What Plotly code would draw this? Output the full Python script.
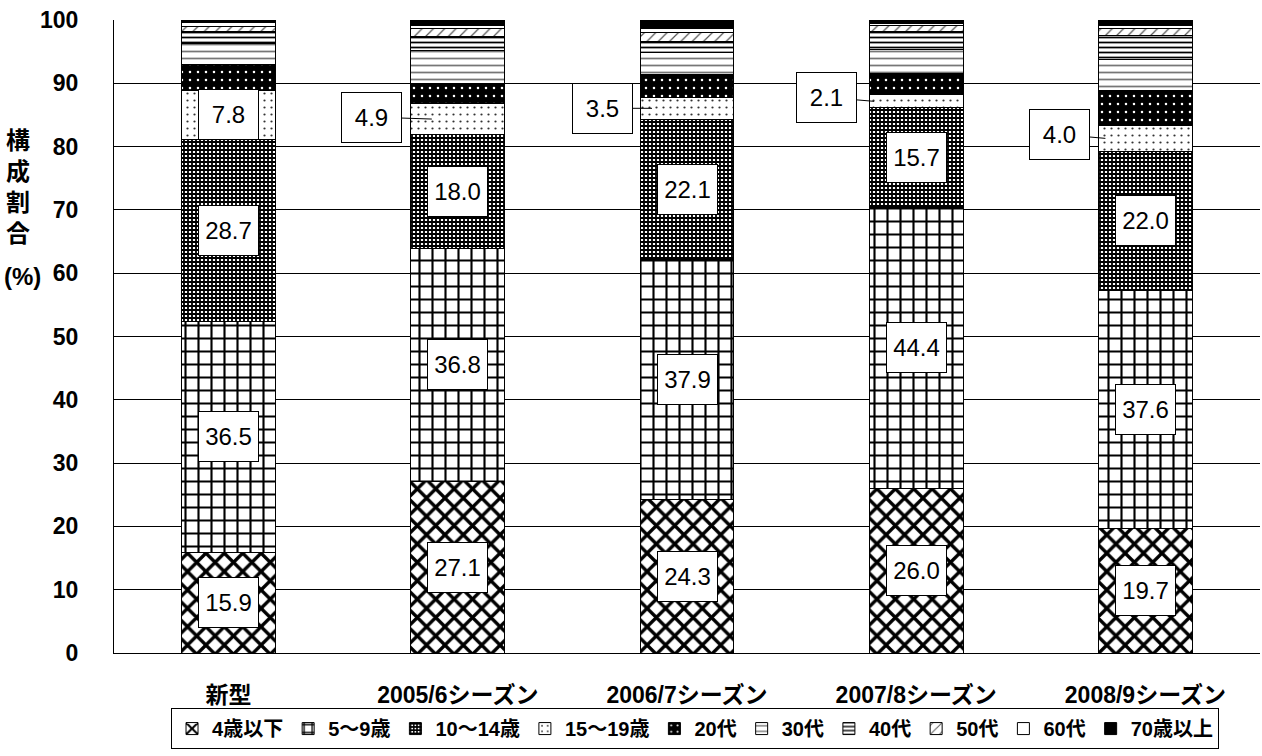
import plotly.graph_objects as go

# Seasons / outbreak shown on the category axis
categories = ["新型", "2005/6シーズン", "2006/7シーズン", "2007/8シーズン", "2008/9シーズン"]

# Age groups (stack order, bottom to top)
age_groups = ["4歳以下", "5～9歳", "10～14歳", "15～19歳", "20代",
              "30代", "40代", "50代", "60代", "70歳以上"]

# Composition ratio (%) per age group, one value per category
age_0_4 = [15.9, 27.1, 24.3, 26.0, 19.7]
age_5_9 = [36.5, 36.8, 37.9, 44.4, 37.6]
age_10_14 = [28.7, 18.0, 22.1, 15.7, 22.0]
age_15_19 = [7.8, 4.9, 3.5, 2.1, 4.0]
age_20s = [4.0, 3.1, 3.6, 3.3, 5.5]
age_30s = [3.4, 5.3, 3.5, 3.9, 5.0]
age_40s = [1.9, 2.2, 1.7, 2.8, 3.8]
age_50s = [0.8, 1.3, 1.4, 0.9, 1.1]
age_60s = [0.6, 0.5, 0.6, 0.4, 0.4]
age_70p = [0.4, 0.8, 1.4, 0.5, 0.9]

series = [age_0_4, age_5_9, age_10_14, age_15_19, age_20s,
          age_30s, age_40s, age_50s, age_60s, age_70p]

# Monochrome fill patterns, one per age group
patterns = [
    dict(shape="x", fgcolor="black", bgcolor="white", size=13, solidity=0.45),
    dict(shape="+", fgcolor="black", bgcolor="white", size=13, solidity=0.3),
    dict(shape="+", fgcolor="black", bgcolor="white", size=4, solidity=0.7),
    dict(shape=".", fgcolor="#333333", bgcolor="white", size=7, solidity=0.08),
    dict(shape=".", fgcolor="white", bgcolor="black", size=8, solidity=0.08),
    dict(shape="-", fgcolor="#777777", bgcolor="white", size=7, solidity=0.25),
    dict(shape="-", fgcolor="black", bgcolor="white", size=5, solidity=0.35),
    dict(shape="/", fgcolor="#555555", bgcolor="white", size=8, solidity=0.15),
    dict(shape="", bgcolor="white"),
    dict(shape="", bgcolor="black"),
]
for p in patterns:
    p["fgopacity"] = 1
fill_colors = ["white"] * 9 + ["black"]

FONT = "Liberation Sans, Arial, Noto Sans CJK JP, sans-serif"

fig = go.Figure()
for name, vals, pat, col in zip(age_groups, series, patterns, fill_colors):
    fig.add_trace(go.Bar(
        name=name, x=categories, y=vals,
        marker=dict(color=col, pattern=pat, line=dict(color="black", width=1)),
        hoverinfo="x+y+name",
    ))

# Boxed value labels for the four youngest groups
labelled = [age_0_4, age_5_9, age_10_14, age_15_19]
# per-category placement of the 15～19歳 label: (xshift of leader tip, ax, ay)
outside = {1: (-26, -60, -2), 2: (-35, -50, 0), 3: (-42, -48, -4), 4: (-40, -46, -4)}

annotations = []
box = dict(bgcolor="white", bordercolor="black", borderwidth=1, borderpad=5,
           width=49, height=39, font=dict(family=FONT, size=24, color="black"))
for ci, cat in enumerate(categories):
    base = 0.0
    for si, vals in enumerate(labelled):
        v = vals[ci]
        mid = base + v / 2
        base += v
        if si == 3 and ci in outside:
            xs, ax, ay = outside[ci]
            annotations.append(dict(
                x=cat, y=mid, xref="x", yref="y", text=f"{v:.1f}",
                showarrow=True, arrowhead=0, arrowwidth=1, arrowcolor="black",
                ax=ax, ay=ay, xshift=xs, **box))
        else:
            annotations.append(dict(
                x=cat, y=mid, xref="x", yref="y", text=f"{v:.1f}",
                showarrow=False, **box))

# Vertical axis title, one glyph per line
title_parts = [("構", 0.810, -96, 24), ("成", 0.760, -96, 24), ("割", 0.711, -96, 24),
               ("合", 0.662, -96, 24), ("(%)", 0.594, -92, 24)]
for txt, yp, xs, fs in title_parts:
    annotations.append(dict(
        x=0, y=yp, xref="paper", yref="paper", xanchor="center", yanchor="middle",
        xshift=xs, showarrow=False, text=txt,
        font=dict(family=FONT, size=fs, color="black", weight="bold")))

fig.update_layout(
    width=1262, height=756,
    margin=dict(l=114, r=2, t=20, b=103),
    paper_bgcolor="white", plot_bgcolor="white",
    barmode="stack", bargap=0.59,
    font=dict(family=FONT, color="black"),
    annotations=annotations,
    showlegend=True,
    legend=dict(
        orientation="h", traceorder="normal",
        x=0.507, xanchor="center", y=-0.087, yanchor="top",
        bordercolor="black", borderwidth=1, bgcolor="white",
        font=dict(family=FONT, size=20, color="black", weight="bold"),
        itemwidth=30, tracegroupgap=0,
    ),
    xaxis=dict(
        type="category", showline=True, linecolor="black", linewidth=1,
        ticks="", showgrid=False, ticklabelstandoff=21,
        tickfont=dict(family=FONT, size=23, color="black", weight="bold"),
    ),
    yaxis=dict(
        range=[0, 100], dtick=10, tick0=0, showgrid=True, gridcolor="black",
        gridwidth=1, zeroline=False, showline=True, linecolor="black", linewidth=1,
        ticks="", ticklabelstandoff=30,
        tickfont=dict(family=FONT, size=23, color="black", weight="bold"),
    ),
)

fig.write_html("out.html")
